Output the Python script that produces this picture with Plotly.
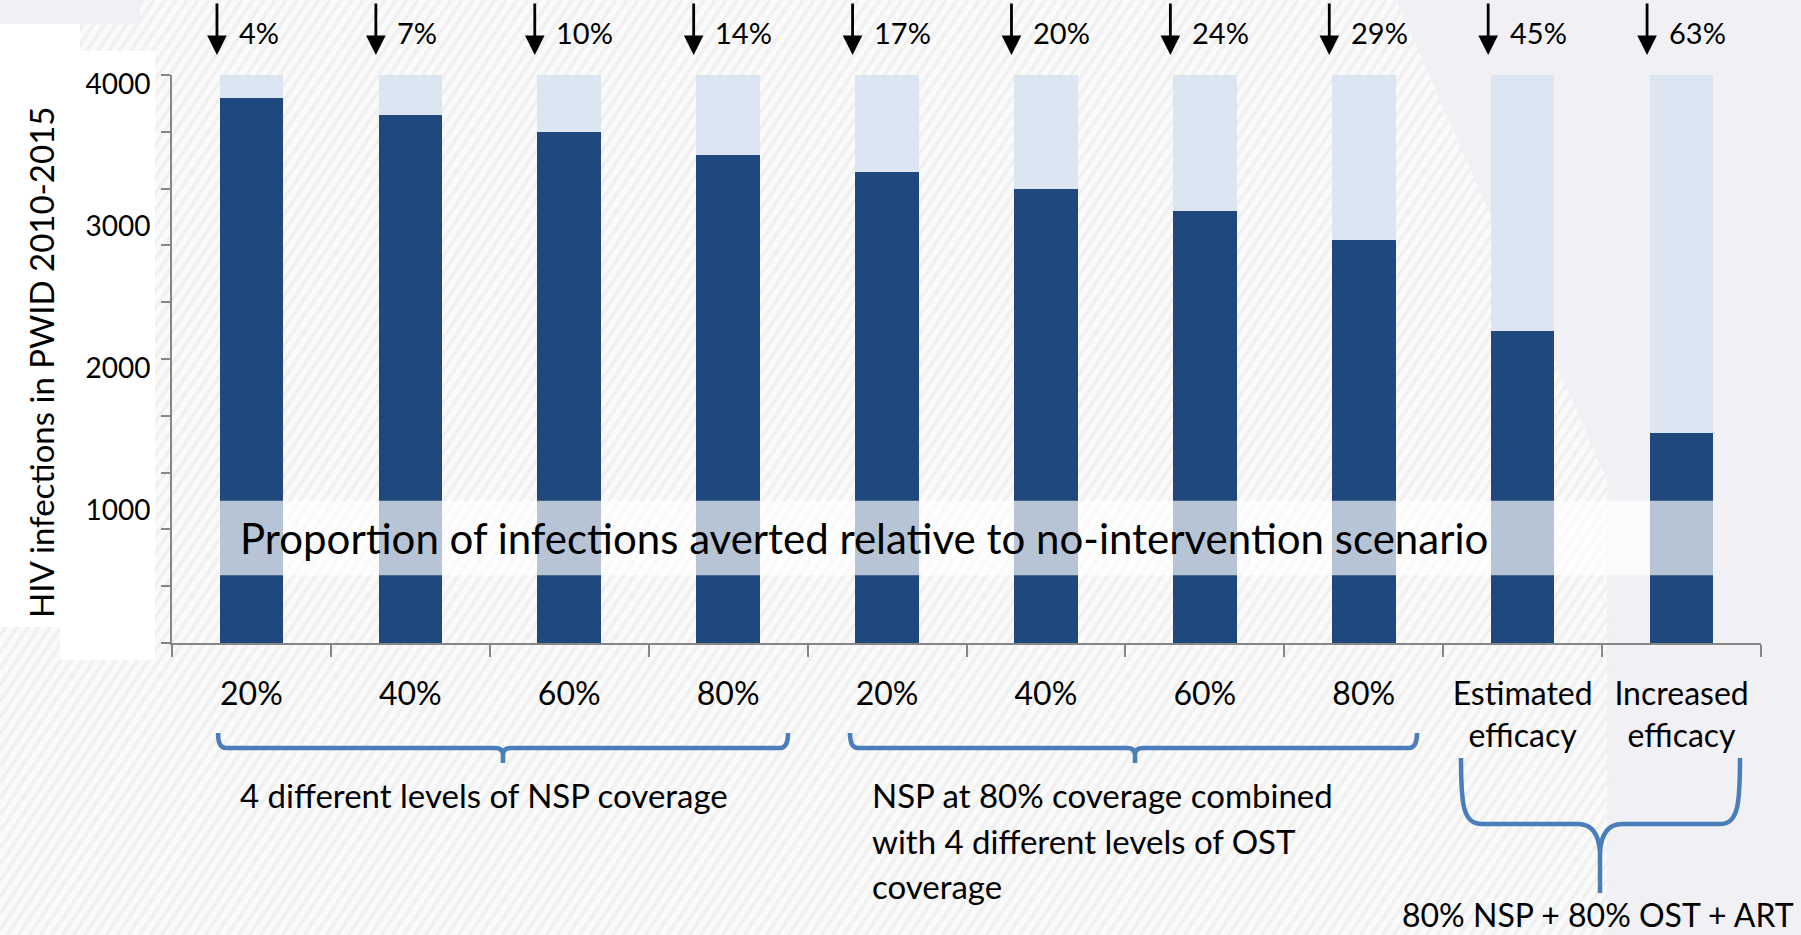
import math
import plotly.graph_objects as go

# scenarios on the x axis
scenarios = ["20%", "40%", "60%", "80%", "20%", "40%", "60%", "80%",
             "Estimated<br>efficacy", "Increased<br>efficacy"]
# HIV infections 2010-2015 remaining under each scenario
remaining = [3840, 3720, 3600, 3440, 3320, 3200, 3040, 2840, 2200, 1480]
# infections averted relative to no intervention (4000)
averted = [160, 280, 400, 560, 680, 800, 960, 1160, 1800, 2520]
pct_averted = ["4%", "7%", "10%", "14%", "17%", "20%", "24%", "29%", "45%", "63%"]
y_ticks = [1000, 2000, 3000, 4000]

DARK = "#1f497d"
LIGHT = "#dce6f2"
BLUE = "#4a7ebb"
FONT = "Lato"

W, H = 1801, 935
L, R, T, B = 172, 40, 75, 292
PW, PH = W - L - R, H - T - B


def px(x):
    return (x - L) / PW


def py(y):
    return (H - B - y) / PH


# striped background area (pixel polygon, convex)
STRIPE_POLY = [(0, 0), (1396, 0), (1607, 480), (1607, 935), (0, 935)]


def clip_segment(p0, p1, poly):
    # Cyrus-Beck clipping of a segment against a convex polygon
    t0, t1 = 0.0, 1.0
    dx, dy = p1[0] - p0[0], p1[1] - p0[1]
    n = len(poly)
    cx = sum(p[0] for p in poly) / n
    cy = sum(p[1] for p in poly) / n
    for k in range(n):
        ax, ay = poly[k]
        bx, by = poly[(k + 1) % n]
        nx, ny = -(by - ay), bx - ax
        if nx * (cx - ax) + ny * (cy - ay) < 0:
            nx, ny = -nx, -ny
        num = nx * (p0[0] - ax) + ny * (p0[1] - ay)
        den = nx * dx + ny * dy
        if den == 0:
            if num < 0:
                return None
            continue
        t = -num / den
        if den > 0:
            t0 = max(t0, t)
        else:
            t1 = min(t1, t)
        if t0 > t1:
            return None
    return ((p0[0] + t0 * dx, p0[1] + t0 * dy), (p0[0] + t1 * dx, p0[1] + t1 * dy))


def stripes_path(spacing=11, angle=56):
    run = H / math.tan(math.radians(angle))
    parts = []
    x = -run
    while x < W + spacing:
        seg = clip_segment((x, H), (x + run, 0), STRIPE_POLY)
        if seg:
            (a, b), (c, d) = seg
            parts.append(f"M {px(a):.5f},{py(b):.5f} L {px(c):.5f},{py(d):.5f}")
        x += spacing
    return " ".join(parts)


xs = list(range(len(scenarios)))

fig = go.Figure()
fig.add_trace(go.Bar(x=xs, y=remaining, marker_color=DARK, width=0.4,
                     marker_line_width=0, name="remaining"))
fig.add_trace(go.Bar(x=xs, y=averted, marker_color=LIGHT, width=0.4,
                     marker_line_width=0, name="averted"))

shapes = []
# background
poly_path = "M " + " L ".join(f"{px(a)},{py(b)}" for a, b in STRIPE_POLY) + " Z"
shapes.append(dict(type="path", xref="paper", yref="paper", layer="below",
                   path=poly_path, fillcolor="#fafafa", line_width=0))
shapes.append(dict(type="path", xref="paper", yref="paper", layer="below",
                   path=stripes_path(), line=dict(color="#f0f0f0", width=3.5)))
shapes.append(dict(type="rect", xref="paper", yref="paper", layer="below",
                   x0=px(0), x1=px(140), y0=py(0), y1=py(24),
                   fillcolor="#f1f1f5", line_width=0))
shapes.append(dict(type="rect", xref="paper", yref="paper", layer="below",
                   x0=px(0), x1=px(80), y0=py(24), y1=py(627),
                   fillcolor="white", line_width=0))
shapes.append(dict(type="rect", xref="paper", yref="paper", layer="below",
                   x0=px(60), x1=px(155), y0=py(51), y1=py(660),
                   fillcolor="white", line_width=0))
# translucent band with caption
shapes.append(dict(type="rect", xref="x", yref="y", layer="above",
                   x0=-0.2, x1=9.2, y0=477, y1=1002,
                   fillcolor="white", opacity=0.68, line_width=0))


def bracket(x0, x1, xc, ytop, ymid, ybot):
    return (f"M {px(x0)},{py(ytop)} Q {px(x0)},{py(ymid)} {px(x0 + 8)},{py(ymid)} "
            f"L {px(xc - 8)},{py(ymid)} Q {px(xc)},{py(ymid)} {px(xc)},{py(ymid + 7)} "
            f"L {px(xc)},{py(ybot)} M {px(xc)},{py(ymid + 7)} "
            f"Q {px(xc)},{py(ymid)} {px(xc + 8)},{py(ymid)} "
            f"L {px(x1 - 8)},{py(ymid)} Q {px(x1)},{py(ymid)} {px(x1)},{py(ytop)}")


shapes.append(dict(type="path", xref="paper", yref="paper",
                   path=bracket(218, 788, 503, 733, 748, 763),
                   line=dict(color=BLUE, width=4.5)))
shapes.append(dict(type="path", xref="paper", yref="paper",
                   path=bracket(850, 1417, 1135, 733, 748, 763),
                   line=dict(color=BLUE, width=4.5)))
big = (f"M {px(1461)},{py(758)} C {px(1461)},{py(805)} {px(1463)},{py(824)} {px(1482)},{py(824)} "
       f"L {px(1578)},{py(824)} Q {px(1598)},{py(824)} {px(1600)},{py(852)} L {px(1600)},{py(893)} "
       f"M {px(1600)},{py(852)} Q {px(1602)},{py(824)} {px(1622)},{py(824)} "
       f"L {px(1720)},{py(824)} C {px(1738)},{py(824)} {px(1740)},{py(805)} {px(1740)},{py(758)}")
shapes.append(dict(type="path", xref="paper", yref="paper", path=big,
                   line=dict(color=BLUE, width=4.5)))

annotations = []
for i, p in enumerate(pct_averted):
    annotations.append(dict(x=i - 0.217, y=py(55), xref="x", yref="paper", text="",
                            showarrow=True, ax=0, ay=-53, arrowhead=2, arrowsize=1.4,
                            arrowwidth=2.8, arrowcolor="black"))
    annotations.append(dict(x=i - 0.094, y=py(33), xref="x", yref="paper", text=p,
                            showarrow=False, xanchor="left", yanchor="middle",
                            font=dict(family=FONT, size=29, color="black")))

annotations.append(dict(x=-0.085, y=740, xref="x", yref="y", xanchor="left", yanchor="middle",
                        text="Proportion of infections averted relative to no-intervention scenario",
                        showarrow=False, font=dict(family=FONT, size=42, color="black")))
annotations.append(dict(x=px(41), y=py(363), xref="paper", yref="paper", textangle=-90,
                        text="HIV infections in PWID 2010-2015", showarrow=False,
                        xanchor="center", yanchor="middle",
                        font=dict(family=FONT, size=33, color="black")))

bottom_texts = [
    ("4 different levels of NSP coverage", 238, 795),
    ("NSP at 80% coverage combined", 870, 795),
    ("with 4 different levels of OST", 870, 841),
    ("coverage", 870, 886),
]
for txt, x, y in bottom_texts:
    annotations.append(dict(x=px(x), y=py(y), xref="paper", yref="paper", text=txt,
                            showarrow=False, xanchor="left", yanchor="middle",
                            font=dict(family=FONT, size=33, color="black")))
annotations.append(dict(x=px(1598), y=py(914), xref="paper", yref="paper",
                        text="80% NSP + 80% OST + ART", showarrow=False,
                        xanchor="center", yanchor="middle",
                        font=dict(family=FONT, size=32, color="black")))

fig.update_layout(
    width=W, height=H,
    margin=dict(l=L, r=R, t=T, b=B, pad=0),
    barmode="stack",
    showlegend=False,
    paper_bgcolor="#f1f1f5",
    plot_bgcolor="rgba(0,0,0,0)",
    shapes=shapes,
    annotations=annotations,
    font=dict(family=FONT, color="black"),
    xaxis=dict(range=[-0.5, 9.5], tickvals=xs, ticktext=scenarios, ticks="",
               tickfont=dict(size=32, color="black"), ticklabelstandoff=22,
               showgrid=False, zeroline=False, showline=True, linecolor="#868686", linewidth=2,
               minor=dict(tick0=-0.5, dtick=1, ticks="outside", ticklen=12,
                          tickcolor="#868686", tickwidth=2, showgrid=False)),
    yaxis=dict(range=[0, 4000], tickvals=y_ticks, ticks="",
               tickfont=dict(size=28, color="black"), ticklabelstandoff=14,
               ticklabelshift=9,
               showgrid=False, zeroline=False, showline=True, linecolor="#868686", linewidth=2,
               minor=dict(tick0=0, dtick=400, ticks="outside", ticklen=9,
                          tickcolor="#868686", tickwidth=2, showgrid=False)),
)

fig.write_html("out.html", config={"displayModeBar": False},
               post_script="document.body.style.margin='0px';")
